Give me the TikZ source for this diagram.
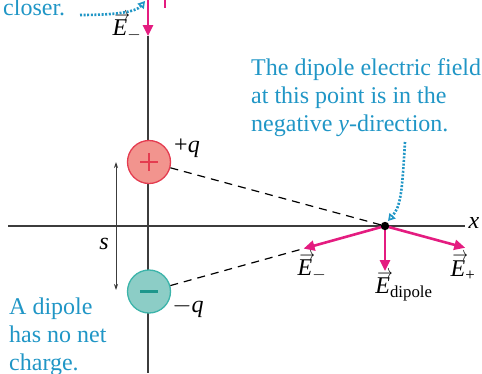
\documentclass[tikz,border=0pt]{standalone}
\usepackage{graphicx}
\usepackage{fontspec}
\setmainfont{Liberation Serif}
\usetikzlibrary{arrows.meta,calc}
\definecolor{capblue}{RGB}{32,150,198}
\definecolor{mag}{RGB}{228,28,128}
\definecolor{axisgray}{RGB}{60,60,60}
\definecolor{plusfill}{RGB}{242,148,142}
\definecolor{plusline}{RGB}{228,60,80}
\definecolor{minusfill}{RGB}{140,205,198}
\definecolor{minusline}{RGB}{60,180,170}
\definecolor{minussign}{RGB}{30,150,140}
\newcommand{\vE}{\makebox[0pt][l]{\raisebox{0.66em}{\kern0.08em\scalebox{0.62}[0.8]{\(\rightarrow\)}}}\textit{E}}
\begin{document}
\begin{tikzpicture}[x=1pt,y=-1pt,
  axis/.style={draw=axisgray,line width=1.4pt},
  field/.style={draw=mag,line width=2.6pt,-{Triangle[length=11pt,width=10pt]}},
  callout/.style={draw=capblue,line width=2.6pt,dash pattern=on 2pt off 1.6pt,
     -{Triangle[open,length=7pt,width=8pt,line width=1.6pt]}},
  note/.style={text=capblue,font=\fontsize{24}{28}\selectfont,align=left,anchor=north west,inner sep=0pt},
  lab/.style={font=\fontsize{24}{28}\selectfont,inner sep=0pt},
  plusc/.style={circle,minimum size=43pt,inner sep=0pt,fill=plusfill,draw=plusline,line width=1.3pt},
  minusc/.style={circle,minimum size=43pt,inner sep=0pt,fill=minusfill,draw=minusline,line width=1.3pt},
  connector/.style={draw=black,line width=1.2pt,dash pattern=on 8pt off 6pt}
]
\useasboundingbox (0,0) rectangle (482,373);
% axes
\coordinate (xl) at (8,226);
\coordinate (xr) at (465,226);
\coordinate (yb) at (148,373);
\coordinate (yt) at (148,36);
\coordinate (ytop) at (148,-2);
\draw[axis] (xl) -- (xr);
\draw[axis] (yt) -- (yb);
\node[lab,font=\fontsize{24}{28}\selectfont\itshape] (xlab) at (474,223) {x};
% charges
\node[plusc] (pq) at (149,162) {};
\node[minusc] (mq) at (149,291.5) {};
\draw[plusline,line width=2.2pt] ($(pq)+(-9,0)$) -- ($(pq)+(9,0)$) ($(pq)+(0,-9)$) -- ($(pq)+(0,9)$);
\draw[minussign,line width=2.4pt] ($(mq)+(-9,0)$) -- ($(mq)+(9,0)$);
\node[lab] (pqlab) at (187,148) {+\textit{q}};
\node[lab] (mqlab) at (188,308) {\(-\)\textit{q}};
% s arrow
\coordinate (st) at (116,162);
\coordinate (sb) at (116,290);
\draw[axisgray,line width=0.8pt,{Stealth[length=6pt,width=4pt]}-{Stealth[length=6pt,width=4pt]}] (st) -- (sb);
\node[lab,font=\fontsize{24}{28}\selectfont\itshape] (slab) at (104,244) {s};
% field point
\coordinate (P) at (385,226);
\coordinate (Emt) at ($(P)!0.345!(mq)$);
\coordinate (Ept) at ($(P)!-0.34!(pq)$);
\coordinate (Edt) at (385,271);
\draw[connector] (pq) -- (P);
\draw[connector] (mq) -- (Emt);
\draw[field] (P) -- (Emt);
\draw[field] (P) -- (Ept);
\draw[field] (P) -- (Edt);
\fill[black] (P) circle (4.2pt);
\node[lab] (Emlab) at (312,267) {\vE\textsubscript{\(-\)}};
\node[lab] (Eplab) at (463,267) {\vE\textsubscript{+}};
\node[lab] (Edlab) at (404,286) {\vE\textsubscript{dipole}};
% top arrows
\draw[field] (ytop) -- (yt);
\coordinate (ept1) at (165,-2);
\coordinate (ept2) at (165,8);
\draw[mag,line width=2.6pt] (ept1) -- (ept2);
\node[lab] (Etlab) at (127,27) {\vE\textsubscript{\(-\)}};
% notes
\node[note] (n1) at (251,58) {The dipole electric field\\at this point is in the\\negative \textit{y}-direction.};
\node[note] (n2) at (9,298) {A dipole\\has no net\\charge.};
\node[note] (n3) at (3,-1) {closer.};
\coordinate (c1) at (405,142);
\coordinate (c2) at (388,221);
\draw[callout] (c1) .. controls (402,192) and (401,206) .. (c2);
\coordinate (d1) at (80,15);
\coordinate (d2) at (145,1);
\draw[callout] (d1) .. controls (115,15) and (136,12) .. (d2);
\end{tikzpicture}
\end{document}
